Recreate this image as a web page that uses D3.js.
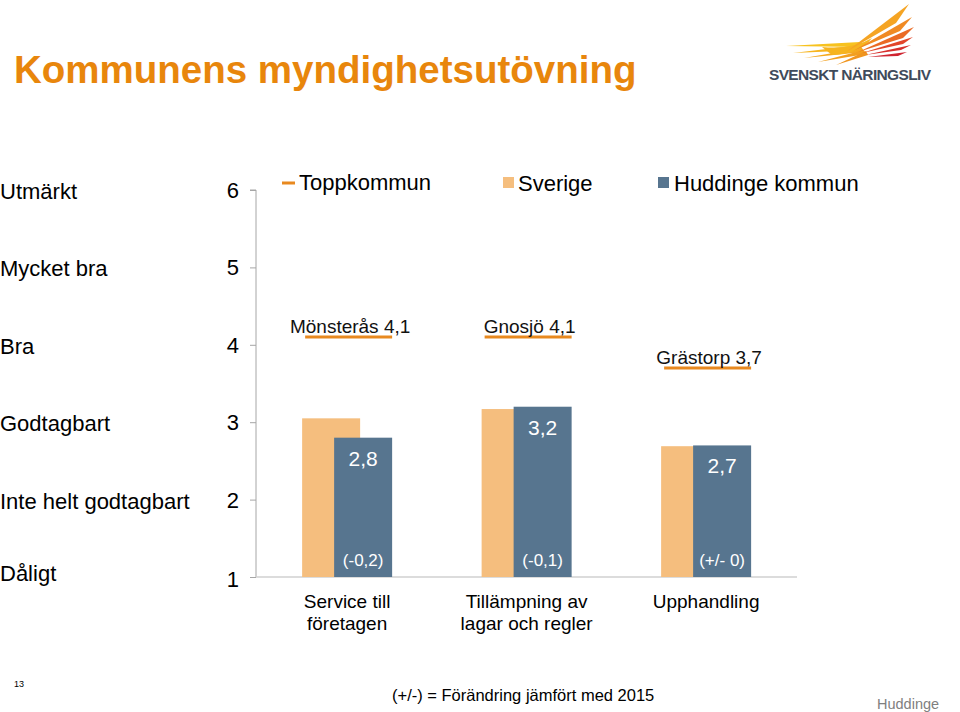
<!DOCTYPE html>
<html><head><meta charset="utf-8">
<script src="https://cdn.jsdelivr.net/npm/d3@7/dist/d3.min.js"></script>
<style>body{margin:0;background:#fff}svg{display:block;font-family:"Liberation Sans",Arial,sans-serif}</style>
</head><body><svg id="c" width="960" height="712"></svg>
<script>
const categories = [["Service till","företagen"],["Tillämpning av","lagar och regler"],["Upphandling"]];
const sverige = [3.05, 3.17, 2.69];
const huddinge = [2.8, 3.2, 2.7];
const huddingeLabels = ["2,8","3,2","2,7"];
const changeLabels = ["(-0,2)","(-0,1)","(+/- 0)"];
const toppkommun = [4.1, 4.1, 3.7];
const toppLabels = ["Mönsterås 4,1","Gnosjö 4,1","Grästorp 3,7"];
const yTicks = [1,2,3,4,5,6];
const yTickNames = ["Dåligt","Inte helt godtagbart","Godtagbart","Bra","Mycket bra","Utmärkt"];
const legendNames = ["Toppkommun","Sverige","Huddinge kommun"];

const ORANGE_LINE = "#E8891F", SV = "#F5BE7E", HU = "#57758F";
const svg = d3.select("#c");

// Title
svg.append("text").attr("x",14).attr("y",83).attr("fill","#E8860C")
  .attr("font-size",38.5).attr("font-weight","bold").text("Kommunens myndighetsutövning");

// Logo (decorative)
const logo = svg.append("g");
const feathers = [
  {d:"M786,46 L860,42 L862,47 Z", c:"#F7C21E"},
  {d:"M793,53 L860,45 L863,50 Z", c:"#F7B51E"},
  {d:"M804,58 L862,48 L864,52 Z", c:"#F5A91E"},
  {d:"M818,62 L864,50 L866,54 Z", c:"#F29F1E"},
  {d:"M836,65 L866,51 L868,55 Z", c:"#F0951E"},
  {d:"M822,47 Q852,50 872,38 Q860,54 832,55 Z", c:"#F6B41E"},
  {d:"M846,52 L909,4 L896,23 Z", c:"#F5A423"},
  {d:"M853,51 L912,17 L900,31 Z", c:"#F08A23"},
  {d:"M858,52 L914,27 L903,38 Z", c:"#EA6A24"},
  {d:"M862,53 L913,37 L903,44 Z", c:"#E2452A"},
  {d:"M865,55 L911,45 L901,50 Z", c:"#D7302C"},
  {d:"M868,57 L907,52 L898,56 Z", c:"#CF2430"}
];
feathers.forEach(f=>logo.append("path").attr("d",f.d).attr("fill",f.c));
logo.append("text").attr("x",769).attr("y",80).attr("fill","#3F4B5B").attr("font-size",15.5)
  .attr("font-weight","bold").attr("textLength",162).text("SVENSKT NÄRINGSLIV");

// Scales
const y = d3.scaleLinear().domain([1,6]).range([577,190]);
const x0 = d3.scaleBand().domain(d3.range(categories.length)).range([256,797]).paddingInner(0.5).paddingOuter(0.257);
const bw = 58, off = 32;

// Axes
const yAxis = d3.axisLeft(y).tickValues(yTicks).tickSize(6).tickFormat("");
const gy = svg.append("g").attr("transform","translate(256,0)").call(yAxis);
gy.select(".domain").attr("stroke","#A6A6A6").attr("d","M-6,"+y(6)+"H0V"+y(1));
gy.selectAll(".tick line").attr("stroke","#A6A6A6");
svg.append("line").attr("x1",256).attr("x2",797).attr("y1",y(1)).attr("y2",y(1)).attr("stroke","#D0D0D0").attr("stroke-width",1.5);

// Y labels
yTicks.forEach((t,i)=>{
  svg.append("text").attr("x",239).attr("y",y(t) + (t===1 ? 10 : 8)).attr("text-anchor","end").attr("font-size",22).attr("fill","#000").text(t);
  svg.append("text").attr("x",0).attr("y",y(t) + (t===1 ? 4 : 9)).attr("font-size",22).attr("fill","#000").text(yTickNames[i]);
});

// Bars
categories.forEach((c,i)=>{
  const gx = x0(i);
  const bx1 = gx, bx2 = gx + off;
  svg.append("rect").attr("x",bx1).attr("width",bw).attr("y",y(sverige[i])).attr("height",y(1)-y(sverige[i])).attr("fill",SV);
  svg.append("rect").attr("x",bx2).attr("width",bw).attr("y",y(huddinge[i])).attr("height",y(1)-y(huddinge[i])).attr("fill",HU);
  svg.append("text").attr("x",bx2+bw/2).attr("y",y(huddinge[i])+28).attr("text-anchor","middle")
    .attr("fill","#fff").attr("font-size",21).text(huddingeLabels[i]);
  svg.append("text").attr("x",bx2+bw/2).attr("y",566).attr("text-anchor","middle")
    .attr("fill","#fff").attr("font-size",17).text(changeLabels[i]);
  // toppkommun line
  const cx = gx + (bw+off)/2;
  svg.append("line").attr("x1",bx1+3).attr("x2",bx2+bw).attr("y1",y(toppkommun[i])).attr("y2",y(toppkommun[i]))
    .attr("stroke",ORANGE_LINE).attr("stroke-width",3);
  svg.append("text").attr("x",cx+3).attr("y",y(toppkommun[i])-4).attr("text-anchor","middle")
    .attr("font-size",19).attr("fill","#111").text(toppLabels[i]);
  // category labels
  c.forEach((line,j)=>{
    svg.append("text").attr("x",cx).attr("y",608+j*22).attr("text-anchor","middle").attr("font-size",19).attr("fill","#000").text(line);
  });
});

// Legend
const lg = svg.append("g");
lg.append("line").attr("x1",282).attr("x2",295).attr("y1",183).attr("y2",183).attr("stroke",ORANGE_LINE).attr("stroke-width",3);
lg.append("text").attr("x",299).attr("y",190).attr("font-size",22).text(legendNames[0]);
lg.append("rect").attr("x",503).attr("y",177).attr("width",11).attr("height",11).attr("fill",SV);
lg.append("text").attr("x",518).attr("y",191).attr("font-size",22).text(legendNames[1]);
lg.append("rect").attr("x",658).attr("y",177).attr("width",11).attr("height",11).attr("fill",HU);
lg.append("text").attr("x",674).attr("y",191).attr("font-size",22).text(legendNames[2]);

// Footer
svg.append("text").attr("x",14).attr("y",687).attr("font-size",9).text("13");
svg.append("text").attr("x",392).attr("y",701).attr("font-size",16.5).text("(+/-) = Förändring jämfört med 2015");
svg.append("text").attr("x",877).attr("y",709).attr("font-size",14.5).attr("fill","#7F7F7F").text("Huddinge");
</script></body></html>
